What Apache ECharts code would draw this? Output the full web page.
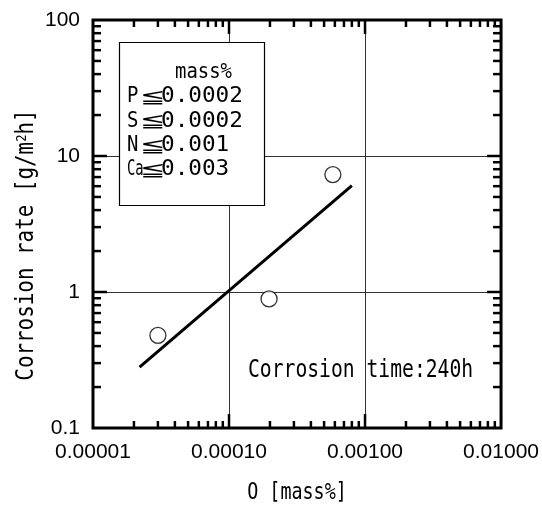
<!DOCTYPE html>
<html><head><meta charset="utf-8">
<script src="https://cdn.jsdelivr.net/npm/echarts@6/dist/echarts.min.js"></script>
<style>html,body{margin:0;padding:0;background:#fff}#c{width:542px;height:505px}</style>
</head><body><div id="c"></div>
<script>
// Data
const oxygenContent = [3.0e-5, 1.97e-4, 5.8e-4];      // O [mass%]
const corrosionRate = [0.48, 0.89, 7.3];              // g/m2h
const fitX = [2.2e-5, 8.0e-4];
const fitY = [0.28, 6.05];
const xTickLabels = ['0.00001', '0.00010', '0.00100', '0.01000'];
const yTickLabels = ['0.1', '1', '10', '100'];
const xDecades = [1e-5, 1e-4, 1e-3];
const yDecades = [0.1, 1, 10];
const mantissas = [2, 3, 4, 5, 6, 7, 8, 9];
const xMajor = [1e-4, 1e-3];
const yMajor = [1, 10];
const legendTitle = 'mass%';
const legendElems = ['P', 'S', 'N', 'Ca'];
const legendLimits = ['0.0002', '0.0002', '0.001', '0.003'];

const xMinor = [], yMinor = [];
xDecades.forEach(d => mantissas.forEach(m => xMinor.push(+(m * d).toPrecision(3))));
yDecades.forEach(d => mantissas.forEach(m => yMinor.push(+(m * d).toPrecision(3))));

const X0 = 1e-5, X1 = 1e-2, Y0 = 0.1, Y1 = 100;
const MONO = '"DejaVu Sans Mono", "Liberation Mono", monospace';
const SANS = '"DejaVu Sans", sans-serif';

const chart = echarts.init(document.getElementById('c'), null, {renderer: 'canvas'});

function tickSeriesX(values, len) {
  return {
    type: 'custom', silent: true, z: 5,
    data: values.map(v => [v, 1]),
    renderItem: (params, api) => {
      const v = api.value(0);
      const b = api.coord([v, Y0]);
      const t = api.coord([v, Y1]);
      const st = {stroke: '#000', lineWidth: 2.5};
      return {type: 'group', children: [
        {type: 'line', shape: {x1: b[0], y1: b[1], x2: b[0], y2: b[1] - len}, style: st},
        {type: 'line', shape: {x1: t[0], y1: t[1], x2: t[0], y2: t[1] + len}, style: st}
      ]};
    }
  };
}
function tickSeriesY(values, len) {
  return {
    type: 'custom', silent: true, z: 5,
    data: values.map(v => [1e-4, v]),
    renderItem: (params, api) => {
      const v = api.value(1);
      const l = api.coord([X0, v]);
      const r = api.coord([X1, v]);
      const st = {stroke: '#000', lineWidth: 2.5};
      return {type: 'group', children: [
        {type: 'line', shape: {x1: l[0], y1: l[1], x2: l[0] + len, y2: l[1]}, style: st},
        {type: 'line', shape: {x1: r[0], y1: r[1], x2: r[0] - len, y2: r[1]}, style: st}
      ]};
    }
  };
}

const legendGraphics = [
  {type: 'rect', shape: {x: 119.5, y: 42.5, width: 145, height: 163}, style: {fill: '#fff', stroke: '#000', lineWidth: 1.2}, z: 10},
  {type: 'text', x: 175, y: 73, scaleX: 0.9, z: 11, style: {text: legendTitle, font: '21px ' + MONO, fill: '#000', textVerticalAlign: 'middle'}}
];
legendElems.forEach((e, i) => {
  const y = 97 + i * 24.3;
  legendGraphics.push({type: 'text', x: 127, y: y, scaleX: e.length > 1 ? 0.66 : 0.9, z: 11, style: {text: e, font: '21px ' + MONO, fill: '#000', textVerticalAlign: 'middle'}});
  legendGraphics.push({type: 'text', x: 140, y: y + 1, scaleX: 1.6, z: 11, style: {text: '≦', font: '19px ' + SANS, fill: '#000', textVerticalAlign: 'middle'}});
  legendGraphics.push({type: 'text', x: 161, y: y, scaleX: 1.08, z: 11, style: {text: legendLimits[i], font: '21px ' + MONO, fill: '#000', textVerticalAlign: 'middle'}});
});

chart.setOption({
  animation: false,
  backgroundColor: '#fff',
  grid: {left: 93, right: 39, top: 20, bottom: 77, show: true, borderColor: '#000', borderWidth: 3, z: 6},
  xAxis: {
    type: 'log', logBase: 10, min: X0, max: X1,
    axisLine: {show: false}, axisTick: {show: false},
    splitLine: {show: true, lineStyle: {color: '#333', width: 1}},
    axisLabel: {
      margin: 14, color: '#000', fontFamily: '"Liberation Sans", Arial, sans-serif', fontSize: 21,
      formatter: v => { const i = Math.round(Math.log10(v)) + 5; return xTickLabels[i] || ''; }
    }
  },
  yAxis: {
    type: 'log', logBase: 10, min: Y0, max: Y1,
    axisLine: {show: false}, axisTick: {show: false},
    splitLine: {show: true, lineStyle: {color: '#333', width: 1}},
    axisLabel: {
      margin: 13, color: '#000', fontFamily: '"Liberation Sans", Arial, sans-serif', fontSize: 21,
      formatter: v => { const i = Math.round(Math.log10(v)) + 1; return yTickLabels[i] || ''; }
    }
  },
  graphic: [
    ...legendGraphics,
    {type: 'text', x: 248, y: 371, scaleX: 0.82, z: 11, style: {text: 'Corrosion time:240h', font: '24px ' + MONO, fill: '#000', textVerticalAlign: 'middle'}},
    {type: 'text', x: 297, y: 493, scaleX: 0.8, z: 11, style: {text: 'O [mass%]', font: '23px ' + MONO, fill: '#000', textAlign: 'center', textVerticalAlign: 'middle'}},
    {type: 'text', x: 27, y: 245, rotation: Math.PI / 2, scaleX: 0.87, z: 11, style: {
      text: '{a|Corrosion rate [g/m}{s|2}{a|h]}', textAlign: 'center', textVerticalAlign: 'middle', fill: '#000',
      rich: {a: {fontFamily: MONO, fontSize: 24, fill: '#000'}, s: {fontFamily: MONO, fontSize: 14, fill: '#000', verticalAlign: 'top', padding: [0, 0, 9, 0]}}
    }}
  ],
  series: [
    {type: 'line', data: fitX.map((x, i) => [x, fitY[i]]), showSymbol: false, symbol: 'none',
     lineStyle: {color: '#000', width: 3}, z: 3},
    {type: 'scatter', data: oxygenContent.map((x, i) => [x, corrosionRate[i]]), symbol: 'circle', symbolSize: 16,
     itemStyle: {color: '#fff', borderColor: '#000', borderWidth: 1.3}, z: 4},
    tickSeriesX(xMinor, 7),
    tickSeriesX(xMajor, 14),
    tickSeriesY(yMinor, 8),
    tickSeriesY(yMajor, 14)
  ]
});
</script></body></html>
